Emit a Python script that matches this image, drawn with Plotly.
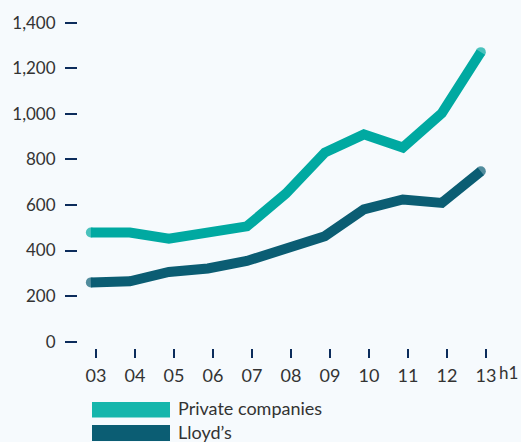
import plotly.graph_objects as go

# Data
years = ["03", "04", "05", "06", "07", "08", "09", "10", "11", "12", "13"]
private_companies = [479, 479, 452, 474, 506, 650, 830, 910, 852, 1003, 1271]
lloyds = [260, 265, 306, 321, 354, 409, 463, 581, 624, 609, 748]
y_ticks = [0, 200, 400, 600, 800, 1000, 1200, 1400]
y_tick_text = ["0", "200", "400", "600", "800", "1,000", "1,200", "1,400"]
series_names = ["Private companies", "Lloyd’s"]

TEAL = "#00a9a1"
TEAL_LEGEND = "#15b6ac"
DARK = "#0b5d73"
TICK = "#0c2c5c"
TEXT = "#333333"
BG = "#f6fafd"
FONT = "Lato"

W, H = 521, 442
ML, MR, MT, MB = 78, 16, 10, 94
LW = 10

x_idx = list(range(len(years)))
# round caps: a dot of line width at each end of the line
cap_sizes = [LW] + [0] * (len(years) - 2) + [LW]

fig = go.Figure()
for vals, color, name in [(private_companies, TEAL, series_names[0]),
                          (lloyds, DARK, series_names[1])]:
    fig.add_trace(go.Scatter(x=x_idx, y=vals, mode="lines+markers",
                             line=dict(color=color, width=LW),
                             marker=dict(color=color, size=cap_sizes, line=dict(width=0)),
                             name=name, showlegend=False))

# pixel -> paper helpers for the legend block
pw = W - ML - MR
ph = H - MT - MB
def px(x):
    return (x - ML) / pw
def py(y):
    return (H - MB - y) / ph

shapes = []
annotations = []
# swatch top/bottom, text anchor y and which edge of the text box sits there
legend_rows = [(series_names[0], TEAL_LEGEND, 402, 417.5, 420, "bottom"),
               (series_names[1], DARK, 425, 441, 420, "top")]
for name, color, top, bottom, text_y, anchor in legend_rows:
    shapes.append(dict(type="rect", xref="paper", yref="paper",
                       x0=px(92), x1=px(170), y0=py(bottom), y1=py(top),
                       fillcolor=color, line=dict(width=0), layer="above"))
    annotations.append(dict(text=name, xref="paper", yref="paper",
                            x=px(177), y=py(text_y), borderpad=0,
                            xanchor="left", yanchor=anchor, showarrow=False,
                            font=dict(family=FONT, size=18, color=TEXT)))

# "h1" suffix next to the final year label
annotations.append(dict(text="h1", xref="paper", yref="paper",
                        x=px(497), y=py(372), xanchor="left", yanchor="middle",
                        showarrow=False, font=dict(family=FONT, size=17, color=TEXT)))

fig.update_layout(
    width=W, height=H,
    margin=dict(l=ML, r=MR, t=MT, b=MB),
    paper_bgcolor=BG, plot_bgcolor=BG,
    shapes=shapes, annotations=annotations,
    xaxis=dict(range=[-0.33, 10.62], showgrid=False, zeroline=False, showline=False,
               tickmode="array", tickvals=[i + 0.13 for i in x_idx], ticktext=years,
               ticks="outside", ticklen=9, tickwidth=2, tickcolor=TICK,
               ticklabelstandoff=2,
               tickfont=dict(family=FONT, size=18, color=TEXT)),
    yaxis=dict(range=[-28, 1456], showgrid=False, zeroline=False, showline=False,
               tickmode="array", tickvals=y_ticks, ticktext=y_tick_text,
               ticks="outside", ticklen=12, tickwidth=2, tickcolor=TICK,
               ticklabelstandoff=6,
               tickfont=dict(family=FONT, size=17, color=TEXT)),
)

fig.write_html("out.html")
